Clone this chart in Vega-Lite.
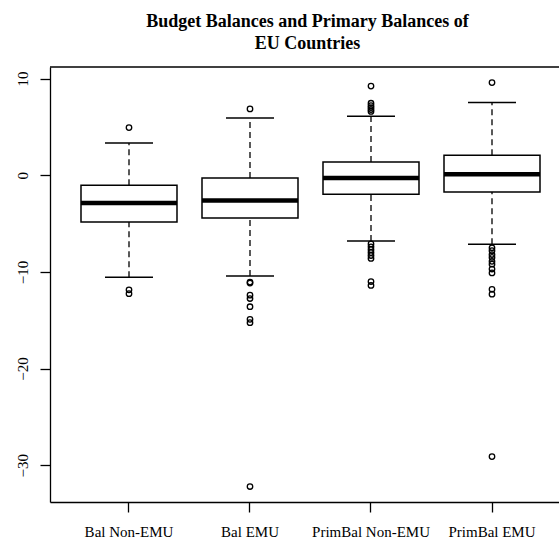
{
  "$schema": "https://vega.github.io/schema/vega-lite/v6.json",
  "autosize": "none",
  "width": 509,
  "height": 435,
  "padding": {"left": 50, "top": 67, "right": 0, "bottom": 36},
  "background": "white",
  "title": {
    "text": ["Budget Balances and Primary Balances of", "EU Countries"],
    "font": "Liberation Serif",
    "fontSize": 18,
    "fontWeight": "bold",
    "color": "black",
    "lineHeight": 22.5,
    "anchor": "middle",
    "offset": 13,
    "dx": 3
  },
  "config": {
    "view": {"stroke": null},
    "axis": {
      "grid": false,
      "domainColor": "black",
      "domainWidth": 1.3,
      "tickColor": "black",
      "tickWidth": 1.3,
      "tickSize": 10,
      "labelFont": "Liberation Serif",
      "labelFontSize": 15,
      "labelColor": "black",
      "title": null
    }
  },
  "datasets": {
    "boxes": [
      {"group": "Bal Non-EMU", "lower": -10.55, "q1": -4.83, "median": -2.86, "q3": -1.03, "upper": 3.34},
      {"group": "Bal EMU", "lower": -10.41, "q1": -4.41, "median": -2.62, "q3": -0.28, "upper": 5.93},
      {"group": "PrimBal Non-EMU", "lower": -6.79, "q1": -1.96, "median": -0.28, "q3": 1.38, "upper": 6.1},
      {"group": "PrimBal EMU", "lower": -7.14, "q1": -1.72, "median": 0.1, "q3": 2.07, "upper": 7.52}
    ],
    "outliers": [
      {"group": "Bal Non-EMU", "value": 4.93},
      {"group": "Bal Non-EMU", "value": -11.85},
      {"group": "Bal Non-EMU", "value": -12.25},
      {"group": "Bal EMU", "value": 6.86},
      {"group": "Bal EMU", "value": -11.05},
      {"group": "Bal EMU", "value": -11.15},
      {"group": "Bal EMU", "value": -12.4},
      {"group": "Bal EMU", "value": -12.75},
      {"group": "Bal EMU", "value": -13.6},
      {"group": "Bal EMU", "value": -14.9},
      {"group": "Bal EMU", "value": -15.25},
      {"group": "Bal EMU", "value": -32.2},
      {"group": "PrimBal Non-EMU", "value": 9.23},
      {"group": "PrimBal Non-EMU", "value": 7.45},
      {"group": "PrimBal Non-EMU", "value": 7.2},
      {"group": "PrimBal Non-EMU", "value": 7.0},
      {"group": "PrimBal Non-EMU", "value": 6.8},
      {"group": "PrimBal Non-EMU", "value": 6.6},
      {"group": "PrimBal Non-EMU", "value": -7.1},
      {"group": "PrimBal Non-EMU", "value": -7.4},
      {"group": "PrimBal Non-EMU", "value": -7.7},
      {"group": "PrimBal Non-EMU", "value": -8.0},
      {"group": "PrimBal Non-EMU", "value": -8.3},
      {"group": "PrimBal Non-EMU", "value": -8.6},
      {"group": "PrimBal Non-EMU", "value": -11.0},
      {"group": "PrimBal Non-EMU", "value": -11.4},
      {"group": "PrimBal EMU", "value": 9.59},
      {"group": "PrimBal EMU", "value": -7.5},
      {"group": "PrimBal EMU", "value": -7.8},
      {"group": "PrimBal EMU", "value": -8.2},
      {"group": "PrimBal EMU", "value": -8.5},
      {"group": "PrimBal EMU", "value": -8.9},
      {"group": "PrimBal EMU", "value": -9.2},
      {"group": "PrimBal EMU", "value": -9.7},
      {"group": "PrimBal EMU", "value": -10.1},
      {"group": "PrimBal EMU", "value": -11.8},
      {"group": "PrimBal EMU", "value": -12.3},
      {"group": "PrimBal EMU", "value": -29.1}
    ]
  },
  "layer": [
    {
      "encoding": {
        "x": {
          "field": "group",
          "type": "nominal",
          "sort": ["Bal Non-EMU", "Bal EMU", "PrimBal Non-EMU", "PrimBal EMU"],
          "scale": {"type": "band", "paddingInner": 0, "paddingOuter": 0.1033, "align": 0.74},
          "axis": {"labelAngle": 0, "labelPadding": 12, "labelBaseline": "top"}
        }
      },
      "layer": [
        {
          "data": {"name": "boxes"},
          "mark": {"type": "rule", "color": "black", "strokeWidth": 1.3, "strokeDash": [6, 4]},
          "encoding": {
            "y": {
              "field": "q3", "type": "quantitative",
              "scale": {"domain": [-33.8, 11.2], "nice": false, "zero": false},
              "axis": {"values": [-30, -20, -10, 0, 10], "labelAngle": -90, "labelAlign": "center", "labelBaseline": "bottom", "labelPadding": 10}
            },
            "y2": {"field": "upper"}
          }
        },
        {
          "data": {"name": "boxes"},
          "mark": {"type": "rule", "color": "black", "strokeWidth": 1.3, "strokeDash": [6, 4]},
          "encoding": {
            "y": {"field": "lower", "type": "quantitative"},
            "y2": {"field": "q1"}
          }
        },
        {
          "data": {"name": "boxes"},
          "mark": {"type": "tick", "color": "black", "size": 48, "thickness": 1.5, "opacity": 1},
          "encoding": {"y": {"field": "upper", "type": "quantitative"}}
        },
        {
          "data": {"name": "boxes"},
          "mark": {"type": "tick", "color": "black", "size": 48, "thickness": 1.5, "opacity": 1},
          "encoding": {"y": {"field": "lower", "type": "quantitative"}}
        },
        {
          "data": {"name": "boxes"},
          "mark": {"type": "bar", "fill": "white", "stroke": "black", "strokeWidth": 1.5, "size": 96, "opacity": 1},
          "encoding": {
            "y": {"field": "q1", "type": "quantitative"},
            "y2": {"field": "q3"}
          }
        },
        {
          "data": {"name": "boxes"},
          "mark": {"type": "tick", "color": "black", "size": 96, "thickness": 4.5, "opacity": 1},
          "encoding": {"y": {"field": "median", "type": "quantitative"}}
        },
        {
          "data": {"name": "outliers"},
          "mark": {"type": "point", "shape": "circle", "filled": false, "color": "black", "size": 30, "strokeWidth": 1.3, "opacity": 1},
          "encoding": {"y": {"field": "value", "type": "quantitative"}}
        }
      ]
    },
    {
      "data": {"values": [{}]},
      "mark": {"type": "rule", "color": "black", "strokeWidth": 1.3},
      "encoding": {"y": {"datum": 11.2}}
    }
  ]
}
